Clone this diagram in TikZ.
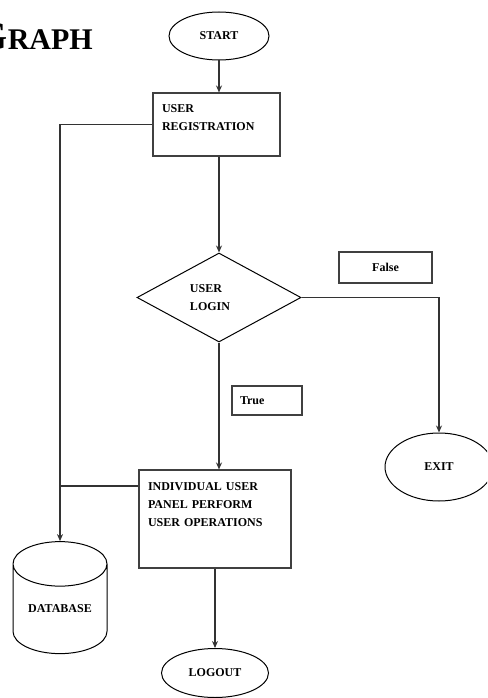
\documentclass[tikz,border=0pt]{standalone}
\usepackage{fontspec}
\setmainfont{Liberation Serif}
\usetikzlibrary{shapes.geometric,arrows.meta}

\begin{document}
\begin{tikzpicture}[x=1pt,y=-1pt,
  every node/.style={font=\bfseries\fontsize{12}{18}\selectfont},
  box/.style={draw=black!75,line width=1.1pt,rectangle,inner xsep=9pt,inner ysep=4pt,align=left},
  oval/.style={draw=black,line width=1pt,ellipse,inner sep=0pt},
  flow/.style={draw=black!80,line width=1.1pt},
  arr/.style={flow,-{Stealth[length=7pt,width=6pt]}}]
  \clip (0,0) rectangle (487,698);
  % heading, cut at the left edge
  \node[anchor=base east,inner sep=0pt] (title) at (93,50)
    {\fontsize{40}{40}\selectfont G\fontsize{30}{30}\selectfont RAPH};
  % flow chart
  \node[oval,minimum width=100pt,minimum height=48pt] (start) at (219,36) {START};
  \node[box,text width=109pt,text height=16pt,text depth=39pt] (reg) at (216.5,124.5) {USER\\REGISTRATION};
  \node[diamond,draw=black,line width=1pt,inner sep=0pt,aspect=1.84,
        minimum width=164pt,minimum height=89pt,align=left] (login) at (219,297.5)
    {USER\\LOGIN\hspace*{18pt}};
  \node[box,align=center,minimum width=93pt,minimum height=31pt,inner sep=0pt] (false) at (385.5,267.5) {False};
  \node[box,inner xsep=8pt,text width=54pt,minimum height=29pt,inner ysep=0pt] (true) at (267,400.5) {True};
  \node[oval,minimum width=108pt,minimum height=68pt] (exit) at (439,467) {EXIT};
  \node[box,text width=134pt,text height=16pt,text depth=74pt] (ops) at (215,519)
    {INDIVIDUAL USER\\PANEL PERFORM\\USER OPERATIONS};
  \node[cylinder,shape border rotate=90,draw=black,line width=1pt,aspect=0.7,
        minimum width=94pt,minimum height=112pt,inner sep=0pt] (db) at (60,609) {DATABASE};
  \node[oval,minimum width=107pt,minimum height=49pt] (logout) at (215,673) {LOGOUT};

  \draw[arr] (start) -- (start |- reg.north);
  \draw[arr] (start |- reg.south) -- (login);
  \draw[arr] (login) -| (exit);
  \draw[arr] (login) -- (login |- ops.north);
  \draw[arr] (reg) -| (db);
  \draw[flow] ([yshift=33pt]ops.west) -- ([yshift=33pt]ops.west -| db);
  \draw[arr] (ops) -- (logout);
\end{tikzpicture}
\end{document}
